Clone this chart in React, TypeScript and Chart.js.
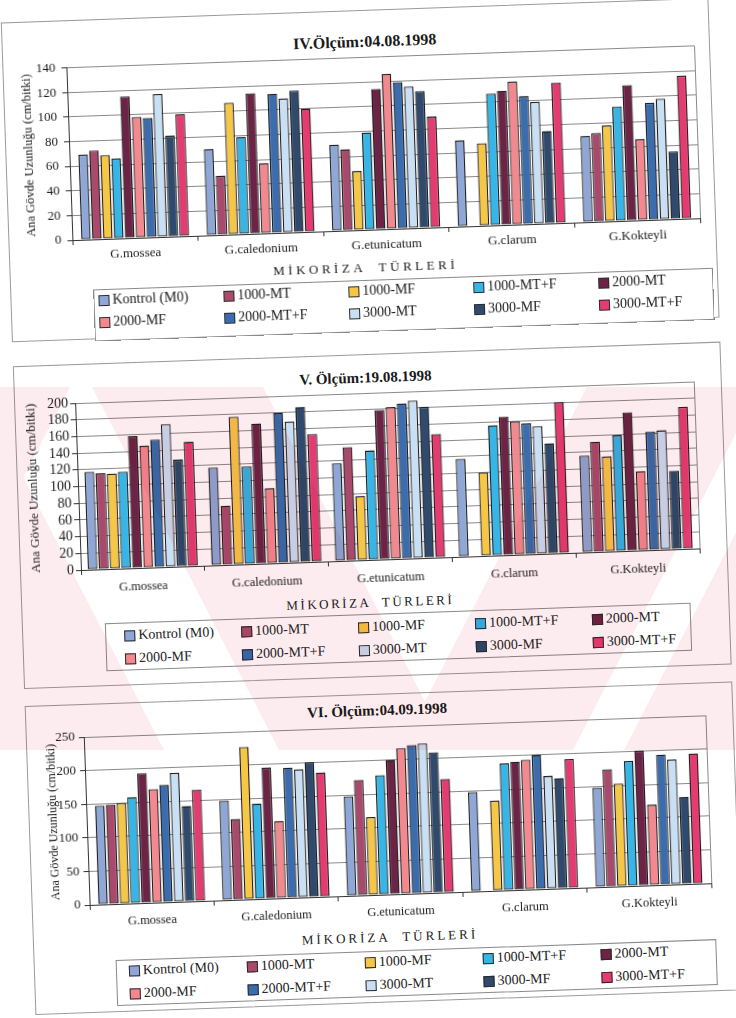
import React, { useEffect, useRef } from "react";
import { Chart, registerables } from "chart.js";

Chart.register(...registerables);

const SERIF = '"Liberation Serif", "Times New Roman", Times, serif';

// Species (x categories) and treatments (one bar per treatment in each group)
const categories = ["G.mossea", "G.caledonium", "G.etunicatum", "G.clarum", "G.Kokteyli"];
const treatments = [
  "Kontrol (M0)",
  "1000-MT",
  "1000-MF",
  "1000-MT+F",
  "2000-MT",
  "2000-MF",
  "2000-MT+F",
  "3000-MT",
  "3000-MF",
  "3000-MT+F",
];
const treatmentColors = [
  "#8fa7d6",
  "#a9496c",
  "#f6c746",
  "#36b5e6",
  "#6d2345",
  "#f3888f",
  "#3b6cad",
  "#c9dff4",
  "#2f4a6d",
  "#e43b71",
];

// IV. Ölçüm – 04.08.1998, main stem length (cm/bitki), treatments in legend order
const ivMossea = [69, 72, 68, 65, 115, 98, 97, 116, 82, 99];
const ivCaledonium = [70, 48, 107, 79, 114, 57, 113, 109, 115, 100];
const ivEtunicatum = [70, 66, 48, 79, 114, 126, 119, 115, 111, 90];
const ivClarum = [70, null, 67, 107, 109, 116, 104, 99, 75, 114];
const ivKokteyli = [70, 72, 78, 93, 110, 66, 95, 98, 55, 116];

// V. Ölçüm – 19.08.1998
const vMossea = [117, 115, 114, 116, 158, 146, 153, 171, 128, 149];
const vCaledonium = [117, 71, 177, 117, 168, 90, 180, 169, 186, 153];
const vEtunicatum = [117, 136, 77, 131, 179, 182, 186, 189, 181, 148];
const vClarum = [117, null, 100, 156, 166, 160, 157, 153, 132, 181];
const vKokteyli = [116, 132, 114, 139, 166, 95, 142, 143, 94, 170];

// VI. Ölçüm – 04.09.1998
const viMossea = [147, 148, 150, 158, 193, 169, 175, 192, 142, 166];
const viCaledonium = [148, 120, 227, 142, 195, 115, 194, 191, 201, 185];
const viEtunicatum = [148, 172, 116, 178, 200, 217, 221, 223, 209, 169];
const viClarum = [148, null, 134, 189, 191, 193, 200, 168, 164, 192];
const viKokteyli = [148, 175, 153, 186, 201, 120, 194, 186, 130, 194];

const Y_AXIS_TITLE = "Ana Gövde Uzunluğu (cm/bitki)";
const X_AXIS_TITLE = "MİKORİZA  TÜRLERİ";

type Row = (number | null)[];

type Panel = {
  title: string;
  rows: Row[];
  max: number;
  step: number;
  titleSize: number;
  titleX: number;
  titleY: number;
  boxTop: number;
  boxBottom: number;
  plot: { left: number; right: number; top: number; bottom: number };
  tickSize: number;
  tickPad: number;
  catSize: number;
  catPad: number;
  axisTitleSize: number;
  axisTitleX: number;
  barPct: number;
  catPct: number;
  mik: { x: number; y: number; size: number; ls: number };
  legend: {
    left: number;
    right: number;
    top: number;
    bottom: number;
    col0: number;
    colStep: number;
    rowY: number[];
    size: number;
  };
};

const panels: Panel[] = [
  {
    title: "IV.Ölçüm:04.08.1998",
    rows: [ivMossea, ivCaledonium, ivEtunicatum, ivClarum, ivKokteyli],
    max: 140,
    step: 20,
    titleSize: 16,
    titleX: 381,
    titleY: 42,
    boxTop: 10,
    boxBottom: 330,
    plot: { left: 82, right: 710, top: 57, bottom: 230 },
    tickSize: 13,
    tickPad: 6,
    catSize: 13,
    catPad: 3,
    axisTitleSize: 12.5,
    axisTitleX: 42,
    barPct: 0.88,
    catPct: 0.87,
    mik: { x: 374, y: 268, size: 13, ls: 3.5 },
    legend: { left: 101, right: 721, top: 280, bottom: 332, col0: 106, colStep: 125, rowY: [291, 313], size: 14 },
  },
  {
    title: "V. Ölçüm:19.08.1998",
    rows: [vMossea, vCaledonium, vEtunicatum, vClarum, vKokteyli],
    max: 200,
    step: 20,
    titleSize: 15,
    titleX: 370,
    titleY: 378,
    boxTop: 354,
    boxBottom: 677,
    plot: { left: 79, right: 698, top: 393, bottom: 560 },
    tickSize: 14,
    tickPad: 2,
    catSize: 12.5,
    catPad: 6,
    axisTitleSize: 13,
    axisTitleX: 34.5,
    barPct: 0.88,
    catPct: 0.9,
    mik: { x: 367, y: 603, size: 13, ls: 2.5 },
    legend: { left: 101, right: 687, top: 614, bottom: 662, col0: 120, colStep: 117, rowY: [627, 650], size: 14 },
  },
  {
    title: "VI. Ölçüm:04.09.1998",
    rows: [viMossea, viCaledonium, viEtunicatum, viClarum, viKokteyli],
    max: 250,
    step: 50,
    titleSize: 15,
    titleX: 370,
    titleY: 711,
    boxTop: 694,
    boxBottom: 1003,
    plot: { left: 76, right: 698, top: 727, bottom: 895 },
    tickSize: 13,
    tickPad: 4,
    catSize: 12.5,
    catPad: 5,
    axisTitleSize: 12,
    axisTitleX: 42.5,
    barPct: 0.88,
    catPct: 0.87,
    mik: { x: 375, y: 938, size: 13, ls: 3 },
    legend: { left: 100, right: 701, top: 951, bottom: 997, col0: 113, colStep: 118, rowY: [962, 985], size: 14 },
  },
];

const BOX_LEFT = 18;
const BOX_RIGHT = 726;
const CANVAS_LEFT = 20;
const PAD_TOP = 12;
const PAD_RIGHT = 8;
const X_SCALE_H = 32;

// Pale pink archive stamp across the middle of the page (page coordinates)
const STAMP_TOP = 387;
const STAMP_BOTTOM = 750;
const stampBands = [
  [-187, -23, 0, 164],
  [92, 263, 279, 450],
  [-10, 70, -197, -117],
  [587, 760, 400, 573],
  [811, 923, 624, 736],
];

// Right-hand edge of the plot frame (top edge is the max gridline)
const plotFrame = {
  id: "plotFrame",
  beforeDatasetsDraw(chart: any) {
    const { ctx, chartArea: a } = chart;
    ctx.save();
    ctx.strokeStyle = "#8a8a8a";
    ctx.lineWidth = 1;
    ctx.beginPath();
    ctx.moveTo(Math.round(a.right) + 0.5, a.top);
    ctx.lineTo(Math.round(a.right) + 0.5, a.bottom);
    ctx.stroke();
    ctx.restore();
  },
};

function BarPanel({ p }: { p: Panel }) {
  const ref = useRef<HTMLCanvasElement>(null);
  const width = p.plot.right + PAD_RIGHT - CANVAS_LEFT;
  const height = PAD_TOP + (p.plot.bottom - p.plot.top) + X_SCALE_H;
  const yScaleWidth = p.plot.left - CANVAS_LEFT;
  const titlePadTop = p.axisTitleX - CANVAS_LEFT - (p.axisTitleSize * 1.2) / 2;

  useEffect(() => {
    const canvas = ref.current;
    if (!canvas) return;
    const datasets = treatments.map((name, i) => ({
      label: name,
      data: p.rows.map((r) => r[i]),
      backgroundColor: treatmentColors[i],
      borderColor: "#1c1c1c",
      borderWidth: 1.3,
      borderSkipped: false as const,
      barPercentage: p.barPct,
      categoryPercentage: p.catPct,
    }));
    const chart = new Chart(canvas, {
      type: "bar",
      data: { labels: categories, datasets },
      options: {
        responsive: false,
        animation: false,
        devicePixelRatio: 1,
        layout: { padding: { left: 0, top: PAD_TOP, right: PAD_RIGHT, bottom: 0 } },
        plugins: {
          legend: { display: false },
          tooltip: { enabled: false },
        },
        scales: {
          x: {
            grid: {
              display: true,
              drawOnChartArea: false,
              drawTicks: true,
              tickLength: 5,
              color: "#333",
              offset: true,
            },
            border: { display: true, color: "#333", width: 1 },
            ticks: {
              font: { family: SERIF, size: p.catSize },
              color: "#1a1a1a",
              padding: p.catPad,
              maxRotation: 0,
              autoSkip: false,
            },
            afterFit: (s: any) => {
              s.height = X_SCALE_H;
            },
          },
          y: {
            min: 0,
            max: p.max,
            ticks: {
              stepSize: p.step,
              autoSkip: false,
              maxTicksLimit: 30,
              font: { family: SERIF, size: p.tickSize, lineHeight: 1 },
              color: "#1a1a1a",
              padding: p.tickPad,
            },
            grid: { color: "#8a8a8a", lineWidth: 1, tickLength: 5, tickColor: "#333" },
            border: { display: true, color: "#333", width: 1 },
            title: {
              display: true,
              text: Y_AXIS_TITLE,
              font: { family: SERIF, size: p.axisTitleSize },
              color: "#1a1a1a",
              padding: { top: titlePadTop, bottom: 0 },
            },
            afterFit: (s: any) => {
              s.width = yScaleWidth;
            },
          },
        },
      },
      plugins: [plotFrame],
    });
    return () => chart.destroy();
  }, [p]);

  return (
    <>
      <div
        style={{
          position: "absolute",
          left: BOX_LEFT,
          top: p.boxTop,
          width: BOX_RIGHT - BOX_LEFT,
          height: p.boxBottom - p.boxTop,
          border: "1px solid #9a9a9a",
          boxSizing: "border-box",
          background: "#fff",
        }}
      />
      <div
        style={{
          position: "absolute",
          left: p.titleX,
          top: p.titleY,
          transform: "translate(-50%, -50%)",
          fontFamily: SERIF,
          fontWeight: "bold",
          fontSize: p.titleSize,
          color: "#1a1a1a",
          whiteSpace: "nowrap",
        }}
      >
        {p.title}
      </div>
      <canvas
        ref={ref}
        width={width}
        height={height}
        style={{
          position: "absolute",
          left: CANVAS_LEFT,
          top: p.plot.top - PAD_TOP,
          width,
          height,
        }}
      />
      <div
        style={{
          position: "absolute",
          left: p.mik.x,
          top: p.mik.y,
          transform: "translate(-50%, -50%)",
          fontFamily: SERIF,
          fontSize: p.mik.size,
          letterSpacing: p.mik.ls,
          color: "#1a1a1a",
          whiteSpace: "pre",
        }}
      >
        {X_AXIS_TITLE}
      </div>
      <div
        style={{
          position: "absolute",
          left: p.legend.left,
          top: p.legend.top,
          width: p.legend.right - p.legend.left,
          height: p.legend.bottom - p.legend.top,
          border: "1px solid #8a8a8a",
          boxSizing: "border-box",
          background: "#fff",
        }}
      />
      {treatments.map((name, i) => {
        const row = Math.floor(i / 5);
        const col = i % 5;
        return (
          <div
            key={name}
            style={{
              position: "absolute",
              left: p.legend.col0 + col * p.legend.colStep,
              top: p.legend.rowY[row] - 9,
              height: 18,
              display: "flex",
              alignItems: "center",
              fontFamily: SERIF,
              fontSize: p.legend.size,
              color: "#1a1a1a",
              whiteSpace: "nowrap",
            }}
          >
            <span
              style={{
                display: "inline-block",
                width: 9,
                height: 9,
                background: treatmentColors[i],
                border: "1px solid #2a2a2a",
                marginRight: 3,
              }}
            />
            {name}
          </div>
        );
      })}
    </>
  );
}

function Stamp() {
  const h = STAMP_BOTTOM - STAMP_TOP;
  return (
    <svg
      width={736}
      height={h}
      style={{
        position: "absolute",
        left: 0,
        top: STAMP_TOP,
        mixBlendMode: "multiply",
        pointerEvents: "none",
      }}
    >
      <g opacity={0.16} fill="rgb(238,135,155)">
        {stampBands.map(([t0, t1, b0, b1], i) => (
          <polygon key={i} points={`${t0},0 ${t1},0 ${b1},${h} ${b0},${h}`} />
        ))}
      </g>
    </svg>
  );
}

export default function App() {
  return (
    <div
      style={{
        position: "absolute",
        left: 0,
        top: 0,
        width: 736,
        height: 1018,
        overflow: "hidden",
        background: "#fff",
      }}
    >
      <div
        style={{
          position: "absolute",
          left: 0,
          top: 0,
          width: 736,
          height: 1018,
          transform: "rotate(-2deg)",
          transformOrigin: "368px 509px",
        }}
      >
        {panels.map((p) => (
          <BarPanel key={p.title} p={p} />
        ))}
      </div>
      <Stamp />
    </div>
  );
}
